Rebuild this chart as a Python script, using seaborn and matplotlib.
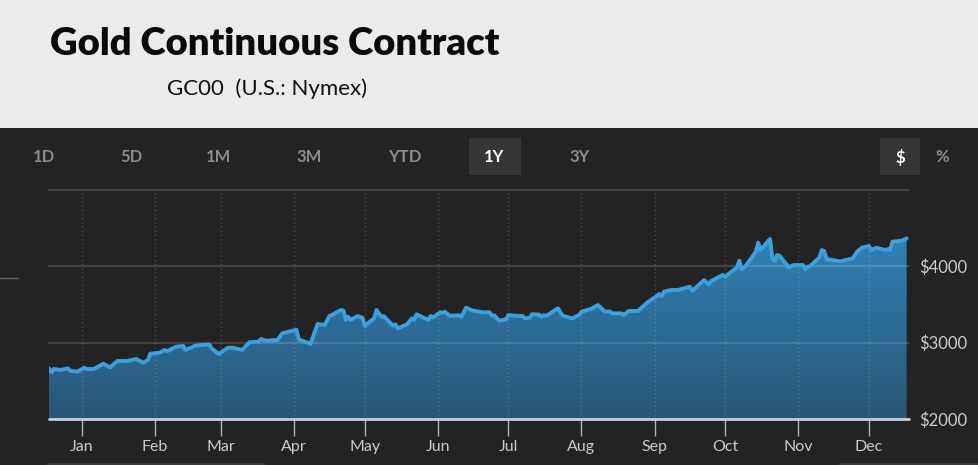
import matplotlib
matplotlib.use("Agg")
import numpy as np
import pandas as pd
import seaborn as sns
import matplotlib.pyplot as plt
import matplotlib.dates as mdates
from matplotlib.patches import Rectangle
from matplotlib.lines import Line2D
from matplotlib.colors import LinearSegmentedColormap

# ---------------- data ----------------
dates = [
    "2024-12-18", "2024-12-19", "2024-12-20", "2024-12-23", "2024-12-26", "2024-12-27", "2024-12-30",
    "2025-01-02", "2025-01-03", "2025-01-06", "2025-01-10", "2025-01-13", "2025-01-16", "2025-01-20",
    "2025-01-24", "2025-01-27", "2025-01-29", "2025-01-30", "2025-02-03", "2025-02-05", "2025-02-06",
    "2025-02-10", "2025-02-13", "2025-02-14", "2025-02-18", "2025-02-20", "2025-02-24", "2025-02-25",
    "2025-02-28", "2025-03-04", "2025-03-06", "2025-03-10", "2025-03-13", "2025-03-17", "2025-03-18",
    "2025-03-20", "2025-03-25", "2025-03-27", "2025-03-31", "2025-04-02", "2025-04-03", "2025-04-08",
    "2025-04-11", "2025-04-14", "2025-04-16", "2025-04-17", "2025-04-21", "2025-04-22", "2025-04-23",
    "2025-04-24", "2025-04-25", "2025-04-28", "2025-04-30", "2025-05-01", "2025-05-05", "2025-05-06",
    "2025-05-08", "2025-05-09", "2025-05-13", "2025-05-14", "2025-05-15", "2025-05-19", "2025-05-21",
    "2025-05-22", "2025-05-23", "2025-05-28", "2025-05-29", "2025-05-30", "2025-06-02", "2025-06-03",
    "2025-06-04", "2025-06-06", "2025-06-10", "2025-06-11", "2025-06-13", "2025-06-16", "2025-06-20",
    "2025-06-23", "2025-06-24", "2025-06-25", "2025-06-27", "2025-06-30", "2025-07-01", "2025-07-03",
    "2025-07-07", "2025-07-08", "2025-07-10", "2025-07-11", "2025-07-14", "2025-07-15", "2025-07-16",
    "2025-07-17", "2025-07-22", "2025-07-24", "2025-07-28", "2025-07-31", "2025-08-01", "2025-08-05",
    "2025-08-08", "2025-08-11", "2025-08-13", "2025-08-14", "2025-08-18", "2025-08-19", "2025-08-21",
    "2025-08-25", "2025-08-27", "2025-08-29", "2025-09-02", "2025-09-03", "2025-09-04", "2025-09-05",
    "2025-09-08", "2025-09-11", "2025-09-16", "2025-09-17", "2025-09-22", "2025-09-24", "2025-09-25",
    "2025-09-30", "2025-10-01", "2025-10-06", "2025-10-07", "2025-10-08", "2025-10-10", "2025-10-14",
    "2025-10-15", "2025-10-16", "2025-10-20", "2025-10-21", "2025-10-22", "2025-10-23", "2025-10-24",
    "2025-10-28", "2025-10-30", "2025-11-03", "2025-11-04", "2025-11-05", "2025-11-06", "2025-11-10",
    "2025-11-11", "2025-11-12", "2025-11-13", "2025-11-17", "2025-11-19", "2025-11-20", "2025-11-24",
    "2025-11-26", "2025-11-28", "2025-12-01", "2025-12-02", "2025-12-04", "2025-12-08", "2025-12-09",
    "2025-12-10", "2025-12-11", "2025-12-15", "2025-12-17",
]
prices = [
    2664, 2612, 2655, 2642, 2664, 2633, 2620,
    2672, 2655, 2655, 2724, 2677, 2760, 2760,
    2786, 2738, 2773, 2855, 2869, 2904, 2887,
    2947, 2956, 2904, 2960, 2969, 2978, 2926,
    2851, 2934, 2934, 2904, 3005, 3013, 3048,
    3026, 3035, 3123, 3153, 3170, 3044, 2983,
    3245, 3231, 3349, 3362, 3428, 3420, 3297,
    3340, 3297, 3349, 3327, 3222, 3319, 3428,
    3340, 3349, 3222, 3240, 3188, 3240, 3319,
    3300, 3372, 3297, 3349, 3330, 3398, 3390,
    3406, 3353, 3358, 3340, 3458, 3419, 3398,
    3398, 3353, 3358, 3288, 3306, 3362, 3355,
    3349, 3319, 3325, 3372, 3368, 3340, 3360,
    3350, 3450, 3353, 3319, 3362, 3406, 3441,
    3493, 3406, 3410, 3384, 3384, 3362, 3415,
    3415, 3471, 3529, 3611, 3637, 3610, 3668,
    3690, 3690, 3733, 3677, 3821, 3764, 3808,
    3886, 3864, 3987, 4074, 3961, 4017, 4192,
    4310, 4214, 4358, 4105, 4070, 4148, 4140,
    3987, 4017, 4017, 3961, 3996, 4000, 4118,
    4214, 4200, 4096, 4074, 4061, 4075, 4100,
    4192, 4244, 4266, 4214, 4244, 4214, 4225,
    4220, 4323, 4336, 4367,
]
month_starts = ["2025-01-01", "2025-02-01", "2025-03-01", "2025-04-01", "2025-05-01", "2025-06-01",
                "2025-07-01", "2025-08-01", "2025-09-01", "2025-10-01", "2025-11-01", "2025-12-01"]
month_labels = ["Jan", "Feb", "Mar", "Apr", "May", "Jun", "Jul", "Aug", "Sep", "Oct", "Nov", "Dec"]
y_ticks = [2000, 3000, 4000]
y_tick_labels = ["$2000", "$3000", "$4000"]
range_buttons = ["1D", "5D", "1M", "3M", "YTD", "1Y", "3Y"]
unit_buttons = ["$", "%"]
title = "Gold Continuous Contract"
subtitle = "GC00  (U.S.: Nymex)"

# ---------------- layout ----------------
W, H = 979, 465
sns.set_theme(style="dark")
plt.rcParams["font.family"] = ["Lato", "DejaVu Sans"]

fig = plt.figure(figsize=(W / 100, H / 100), dpi=100, facecolor="#232323")

def fx(px):
    return px / W

def fy(py):
    return 1 - py / H

# light header band
fig.patches.append(Rectangle((0, fy(128)), 1, 128 / H, transform=fig.transFigure,
                             facecolor="#ebebeb", edgecolor="none", zorder=0))
fig.text(fx(50), fy(55), title, fontsize=27.5, fontweight="heavy", color="#0a0a0a",
         ha="left", va="baseline")
fig.text(fx(167), fy(95), subtitle, fontsize=16, color="#111111", ha="left", va="baseline")

# range buttons
btn_x = [44, 131, 219, 309, 405, 494, 580]
for lab, x in zip(range_buttons, btn_x):
    active = lab == "1Y"
    if active:
        fig.patches.append(Rectangle((fx(469), fy(175)), 52 / W, 37 / H, transform=fig.transFigure,
                                     facecolor="#363636", edgecolor="none", zorder=1))
    fig.text(fx(x), fy(157), lab, fontsize=12, fontweight="bold",
             color="#ffffff" if active else "#8c8c8c", ha="center", va="center", zorder=2)
unit_x = [900, 942]
for lab, x in zip(unit_buttons, unit_x):
    active = lab == "$"
    if active:
        fig.patches.append(Rectangle((fx(880), fy(175)), 40 / W, 37 / H, transform=fig.transFigure,
                                     facecolor="#363636", edgecolor="none", zorder=1))
    fig.text(fx(x), fy(157), lab, fontsize=12, fontweight="bold",
             color="#ffffff" if active else "#8c8c8c", ha="center", va="center", zorder=2)

# decorative small lines
fig.lines.append(Line2D([0, fx(18)], [fy(278), fy(278)], transform=fig.transFigure,
                        color="#666666", lw=1))
fig.lines.append(Line2D([fx(48), fx(263)], [fy(463.5), fy(463.5)], transform=fig.transFigure,
                        color="#3a3a3a", lw=2))
fig.lines.append(Line2D([fx(840), 1], [fy(463.5), fy(463.5)], transform=fig.transFigure,
                        color="#3a3a3a", lw=2))

# ---------------- chart ----------------
ax = fig.add_axes([fx(49), 1 - 419 / H, 860 / W, 229 / H])
ax.set_facecolor("#232323")

df = pd.DataFrame({"date": pd.to_datetime(dates), "price": prices})
x0 = pd.Timestamp("2024-12-18")
x1 = pd.Timestamp("2025-12-18")

poly = ax.fill_between(df["date"], df["price"], 2000, facecolor="none", edgecolor="none")
grad = np.linspace(0, 1, 256).reshape(-1, 1)
cmap = LinearSegmentedColormap.from_list("g", ["#2a5677", "#2f82b5"])
img = ax.imshow(grad, extent=[mdates.date2num(x0), mdates.date2num(x1), 2000, 4400],
                aspect="auto", origin="lower", cmap=cmap, zorder=1)
img.set_clip_path(poly.get_paths()[0], transform=ax.transData)

sns.lineplot(data=df, x="date", y="price", ax=ax, color="#3aa0de", linewidth=2.8, zorder=3)

# grid lines
for y in [3000, 4000, 5000]:
    ax.axhline(y, color="white", alpha=0.14, lw=1.6, zorder=2, clip_on=False)
for m in pd.to_datetime(month_starts):
    ax.axvline(m, color="white", alpha=0.17, lw=1, ls=(0, (1, 2)), zorder=2)
ax.axhline(2000, color="#c9ced6", lw=2, zorder=4, clip_on=False)

ax.set_xlim(x0, x1)
ax.set_ylim(2000, 5000)
ax.set_xticks(pd.to_datetime(month_starts))
ax.set_xticklabels(month_labels)
ax.set_yticks(y_ticks)
ax.set_yticklabels(y_tick_labels)
ax.yaxis.tick_right()
ax.tick_params(axis="x", direction="out", length=12, width=1, color="#b0b4ba",
               labelcolor="#cccccc", labelsize=11.5, pad=3, bottom=True)
ax.tick_params(axis="y", length=0, labelcolor="#cccccc", labelsize=12, pad=7)
ax.set_xlabel("")
ax.set_ylabel("")
ax.grid(False)
for s in ax.spines.values():
    s.set_visible(False)

fig.savefig("out.png", dpi=100, facecolor=fig.get_facecolor())
